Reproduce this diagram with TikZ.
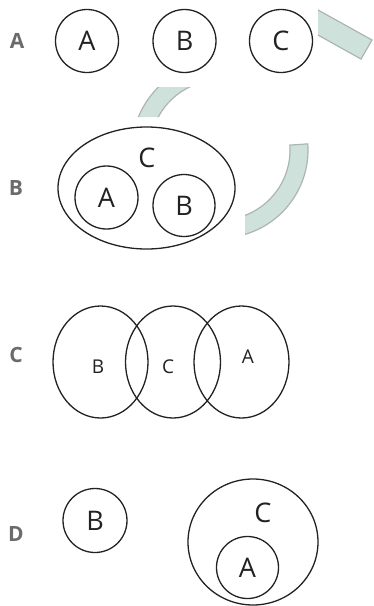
\documentclass[tikz,border=0pt]{standalone}
\usepackage{fontspec}
\setmainfont{Open Sans}
\usetikzlibrary{shapes.geometric}
\definecolor{ink}{HTML}{222222}
\definecolor{taggray}{HTML}{6B6B6B}
\definecolor{bandfill}{HTML}{CFE1DB}
\definecolor{bandline}{HTML}{ABB6B2}
\begin{document}
\begin{tikzpicture}
    [x=1pt,y=-1pt,
     tag/.style={text=taggray,font=\fontsize{21}{21}\selectfont\bfseries,inner sep=0pt},
     letter/.style={text=ink,font=\fontsize{27}{27}\selectfont,inner sep=0pt},
     small letter/.style={text=ink,font=\fontsize{19}{19}\selectfont,inner sep=0pt},
     set/.style={draw=ink,line width=1.3pt,circle,inner sep=0pt,minimum size=#1},
     oval/.style 2 args={draw=ink,line width=1.3pt,ellipse,inner sep=0pt,
       minimum width=#1,minimum height=#2},
     band/.style={fill=bandfill,draw=bandline,line width=1.2pt}]
    \useasboundingbox[fill=white] (0,0) rectangle (373,606);
    % faint ring behind the panels
    \begin{scope}
      \clip (318,0) rectangle (373,87);
      \filldraw[band] (300,0) -- (372,40) -- (361,59) -- (300,25) -- cycle;
    \end{scope}
    \begin{scope}
      \clip (245,117) rectangle (373,606) (0,87) rectangle (373,117);
      \begin{scope}[shift={(220,150)}]
        \filldraw[band] (-4:70) arc[start angle=-4,end angle=250,radius=70]
          -- (250:88) arc[start angle=250,end angle=-4,radius=88] -- cycle;
      \end{scope}
    \end{scope}
    % A
    \node[tag] (tagA) at (17,41) {A};
    \node[set=63,letter] (a1) at (87,41) {A};
    \node[set=63,letter] (a2) at (184.5,41) {B};
    \node[set=63,letter] (a3) at (281,41) {C};
    % B
    \node[tag] (tagB) at (16,188) {B};
    \node[oval={177}{122}] (b3) at (146.5,188) {};
    \node[letter] (b3l) at (147,158) {C};
    \node[set=63,letter] (b1) at (106.5,197.5) {A};
    \node[set=62,letter] (b2) at (184,205.5) {B};
    % C
    \node[tag] (tagC) at (16,355) {C};
    \node[oval={95}{112}] (c2) at (100.5,362) {};
    \node[oval={95}{112}] (c3) at (173,362) {};
    \node[oval={95}{112}] (c1) at (241.5,362) {};
    \node[small letter] (c2l) at (98,367) {B};
    \node[small letter] (c3l) at (168,367) {C};
    \node[small letter] (c1l) at (248,357) {A};
    % D
    \node[tag] (tagD) at (16,534) {D};
    \node[set=64,letter] (d2) at (95,520.5) {B};
    \node[oval={130}{126}] (d3) at (253,542) {};
    \node[letter] (d3l) at (263,513) {C};
    \node[set=62,letter] (d1) at (247.5,567.5) {A};
\end{tikzpicture}
\end{document}
